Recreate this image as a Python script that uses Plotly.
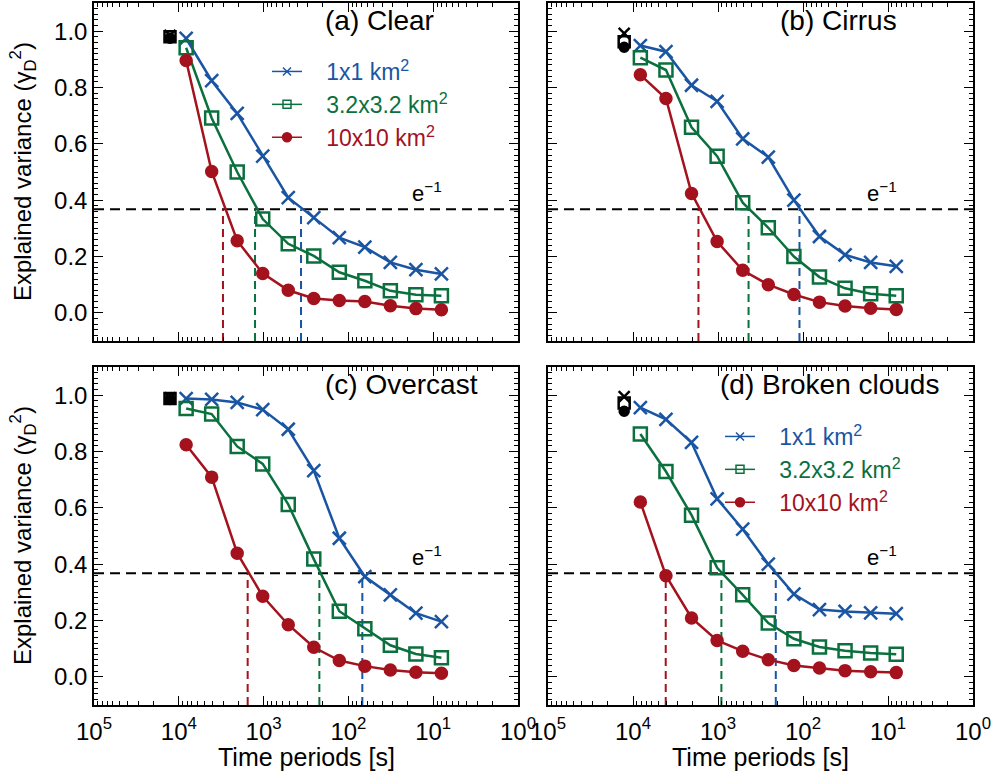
import plotly.graph_objects as go
import math

# ---------------- data ----------------
periods = [8192, 4096, 2048, 1024, 512, 256, 128, 64, 32, 16, 8]
total_period = 12700

panel_titles = ["(a) Clear", "(b) Cirrus", "(c) Overcast", "(d) Broken clouds"]
series_names = ["1x1 km<sup>2</sup>", "3.2x3.2 km<sup>2</sup>", "10x10 km<sup>2</sup>"]

clear_1km = [0.974, 0.824, 0.708, 0.556, 0.409, 0.338, 0.267, 0.233, 0.179, 0.153, 0.138]
clear_3km = [0.941, 0.692, 0.500, 0.333, 0.245, 0.202, 0.144, 0.114, 0.078, 0.064, 0.061]
clear_10km = [0.896, 0.502, 0.256, 0.140, 0.080, 0.051, 0.044, 0.040, 0.025, 0.015, 0.011]

cirrus_1km = [0.949, 0.927, 0.808, 0.751, 0.618, 0.553, 0.400, 0.271, 0.206, 0.179, 0.165]
cirrus_3km = [0.906, 0.862, 0.659, 0.556, 0.391, 0.302, 0.200, 0.127, 0.087, 0.068, 0.061]
cirrus_10km = [0.845, 0.761, 0.424, 0.253, 0.151, 0.100, 0.065, 0.038, 0.024, 0.016, 0.012]

overcast_1km = [0.988, 0.985, 0.974, 0.949, 0.879, 0.732, 0.492, 0.356, 0.291, 0.226, 0.196]
overcast_3km = [0.953, 0.933, 0.818, 0.756, 0.612, 0.418, 0.233, 0.171, 0.112, 0.081, 0.068]
overcast_10km = [0.824, 0.709, 0.439, 0.286, 0.185, 0.105, 0.058, 0.038, 0.024, 0.016, 0.013]

broken_1km = [0.956, 0.914, 0.832, 0.632, 0.524, 0.400, 0.294, 0.239, 0.232, 0.227, 0.224]
broken_3km = [0.862, 0.729, 0.574, 0.387, 0.291, 0.191, 0.135, 0.106, 0.093, 0.085, 0.080]
broken_10km = [0.621, 0.359, 0.209, 0.129, 0.091, 0.061, 0.040, 0.031, 0.022, 0.018, 0.015]

# total (black) values for 1x1, 3.2x3.2, 10x10
total_clear = [0.985, 0.980, 0.975]
total_cirrus = [0.992, 0.962, 0.943]
total_overcast = [0.990, 0.988, 0.985]
total_broken = [0.995, 0.972, 0.943]

# e-folding periods [s] for 1x1, 3.2x3.2, 10x10
efold_clear = [362, 1262, 3013]
efold_cirrus = [110, 437, 1698]
efold_overcast = [68.5, 220, 1541]
efold_broken = [209, 912, 4120]

x_tickvals = [1e5, 1e4, 1e3, 1e2, 1e1, 1e0]
x_ticktext = ["10<sup>5</sup>", "10<sup>4</sup>", "10<sup>3</sup>", "10<sup>2</sup>",
              "10<sup>1</sup>", "10<sup>0</sup>"]
y_tickvals = [0.0, 0.2, 0.4, 0.6, 0.8, 1.0]

E1 = math.exp(-1)

# ---------------- style ----------------
colors = ["#1a55a3", "#0b703d", "#a3121d"]
symbols = ["x-thin-open", "square-open", "circle"]
msizes = [13, 13, 11]
FONT = "Liberation Sans, Arial, Helvetica, sans-serif"

W, H = 995, 775
xdom = [[94 / W, 518 / W], [548 / W, 973 / W]]
ydom_top = [1 - 341 / H, 1 - 3 / H]
ydom_bot = [1 - 705 / H, 1 - 367 / H]

panels = [
    (clear_1km, clear_3km, clear_10km, total_clear, efold_clear, 1, xdom[0], ydom_top),
    (cirrus_1km, cirrus_3km, cirrus_10km, total_cirrus, efold_cirrus, 2, xdom[1], ydom_top),
    (overcast_1km, overcast_3km, overcast_10km, total_overcast, efold_overcast, 3, xdom[0], ydom_bot),
    (broken_1km, broken_3km, broken_10km, total_broken, efold_broken, 4, xdom[1], ydom_bot),
]

fig = go.Figure()
layout = dict(
    template="none",
    width=W, height=H,
    margin=dict(l=0, r=0, t=0, b=0, autoexpand=False),
    paper_bgcolor="white", plot_bgcolor="white",
    font=dict(family=FONT, color="black", size=22),
    showlegend=True,
    shapes=[], annotations=[],
)

minor_x = [k * 10 ** n for n in range(0, 5) for k in range(2, 10)]

for idx, (s1, s2, s3, tot, ef, k, xd, yd) in enumerate(panels):
    xa = "x" if k == 1 else f"x{k}"
    ya = "y" if k == 1 else f"y{k}"
    xkey = "xaxis" if k == 1 else f"xaxis{k}"
    ykey = "yaxis" if k == 1 else f"yaxis{k}"
    bottom = k in (3, 4)
    left = k in (1, 3)

    layout[xkey] = dict(
        domain=xd, anchor=ya, type="log", range=[5, 0], automargin=False,
        tickmode="array", tickvals=x_tickvals, ticktext=x_ticktext,
        showticklabels=bottom, ticks="inside", ticklen=9, tickwidth=1.2, tickcolor="black",
        ticklabelstandoff=4,
        minor=dict(tickmode="array", tickvals=minor_x, ticks="inside", ticklen=4,
                   tickwidth=1, tickcolor="black", showgrid=False),
        mirror="allticks", showline=True, linecolor="black", linewidth=1.5,
        showgrid=False, zeroline=False, tickfont=dict(size=24, family=FONT),
    )
    layout[ykey] = dict(
        domain=yd, anchor=xa, range=[-0.1, 1.1], automargin=False,
        tickmode="array", tickvals=y_tickvals, tickformat=".1f",
        showticklabels=left, ticks="inside", ticklen=9, tickwidth=1.2, tickcolor="black",
        minor=dict(dtick=0.02, tick0=0, ticks="inside", ticklen=4, tickwidth=1,
                   tickcolor="black", showgrid=False),
        mirror="allticks", showline=True, linecolor="black", linewidth=1.5,
        showgrid=False, zeroline=False, tickfont=dict(size=24, family=FONT),
    )

    # horizontal e^-1 line
    layout["shapes"].append(dict(
        type="line", xref=f"{xa} domain", yref=ya, x0=0, x1=1, y0=E1, y1=E1,
        line=dict(color="black", width=2, dash="10px,6px"), layer="below",
    ))

    # vertical e-folding lines
    for j in range(3):
        fig.add_trace(go.Scatter(
            x=[ef[j], ef[j]], y=[-0.1, E1], mode="lines", xaxis=xa, yaxis=ya,
            line=dict(color=colors[j], width=2, dash="8px,5px"),
            showlegend=False, hoverinfo="skip",
        ))

    # data series
    for j, s in enumerate([s1, s2, s3]):
        fig.add_trace(go.Scatter(
            x=periods, y=s, mode="lines+markers", xaxis=xa, yaxis=ya,
            line=dict(color=colors[j], width=2.5),
            marker=dict(symbol=symbols[j], size=msizes[j], color=colors[j],
                        line=dict(color=colors[j], width=2.5)),
            showlegend=False, name=series_names[j],
        ))

    # total (black) markers
    for j in range(3):
        fig.add_trace(go.Scatter(
            x=[total_period], y=[tot[j]], mode="markers", xaxis=xa, yaxis=ya,
            marker=dict(symbol=symbols[j], size=msizes[j] - 2, color="black",
                        line=dict(color="black", width=2.5)),
            showlegend=False, hoverinfo="skip",
        ))

    # e^-1 label
    layout["annotations"].append(dict(
        text="e<sup>\u22121</sup>", xref=f"{xa} domain", yref=f"{ya} domain",
        x=0.785, y=0.44, xanchor="center", yanchor="middle", showarrow=False,
        font=dict(size=22, family=FONT, color="black"),
    ))

    # panel title
    layout["annotations"].append(dict(
        text=panel_titles[idx], xref=f"{xa} domain", yref=f"{ya} domain",
        x=0.40 if k == 4 else 0.54, y=0.948, xanchor="left", yanchor="middle",
        showarrow=False, font=dict(size=28, family=FONT, color="black"),
    ))

    # legend entries for panels (a) and (d)
    if k in (1, 4):
        lg = "legend" if k == 1 else "legend2"
        for j in range(3):
            fig.add_trace(go.Scatter(
                x=[None], y=[None], mode="lines+markers", xaxis=xa, yaxis=ya,
                line=dict(color=colors[j], width=1.5),
                marker=dict(symbol=symbols[j], size=8 if j < 2 else 9, color=colors[j],
                            line=dict(color=colors[j], width=1.5)),
                name="\u00a0\u00a0\u00a0<span style='color:%s'>%s</span>" % (colors[j], series_names[j]),
                showlegend=True, legend=lg,
            ))

legend_common = dict(
    bgcolor="rgba(0,0,0,0)", borderwidth=0, font=dict(size=23, family=FONT),
    xanchor="left", yanchor="top", itemwidth=30, tracegroupgap=0,
)
layout["legend"] = dict(legend_common, x=267 / W, y=1 - 50 / H)
layout["legend2"] = dict(legend_common, x=720 / W, y=1 - 415 / H)

# axis titles
for yc in [(ydom_top[0] + ydom_top[1]) / 2, (ydom_bot[0] + ydom_bot[1]) / 2]:
    layout["annotations"].append(dict(
        text="Explained variance (\u03b3<sub>D</sub><sup>2</sup>)", xref="paper", yref="paper",
        x=23 / W, y=yc, xanchor="center", yanchor="middle", textangle=-90,
        showarrow=False, font=dict(size=24, family=FONT, color="black"),
    ))
for xd in xdom:
    layout["annotations"].append(dict(
        text="Time periods [s]", xref="paper", yref="paper",
        x=(xd[0] + xd[1]) / 2, y=1 - 757 / H, xanchor="center", yanchor="middle",
        showarrow=False, font=dict(size=25, family=FONT, color="black"),
    ))

fig.update_layout(**layout)
fig.write_html("out.html", post_script="document.body.style.margin='0px';",
               config={"displayModeBar": False})
